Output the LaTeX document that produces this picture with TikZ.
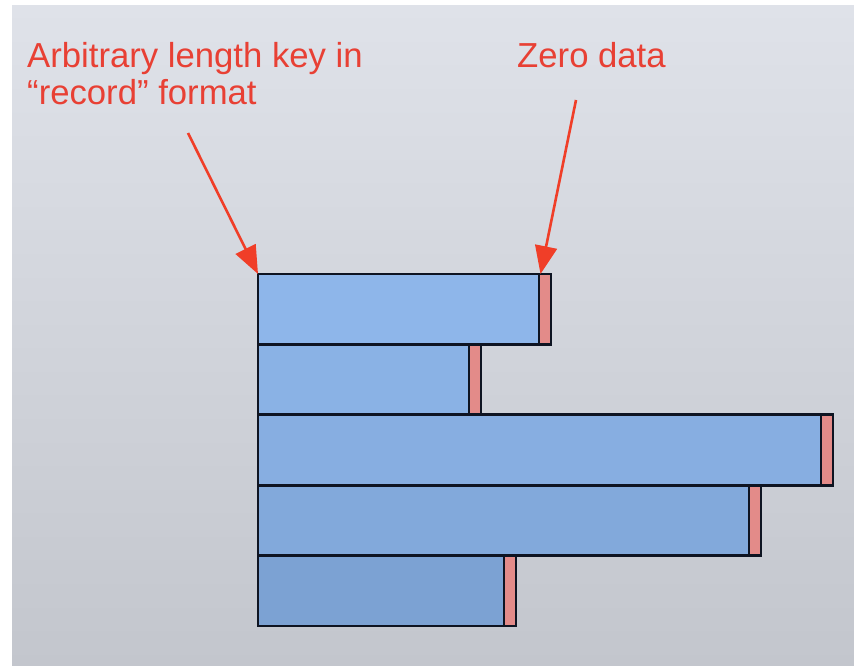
\documentclass[tikz,border=0pt]{standalone}
\usepackage{fontspec}
\setmainfont{Liberation Sans}
\usetikzlibrary{arrows.meta}

\definecolor{slidetop}{RGB}{223,226,233}
\definecolor{slidebot}{RGB}{195,198,205}
\definecolor{keyblue}{RGB}{142,182,234}
\definecolor{keydark}{RGB}{124,162,211}
\definecolor{zeropink}{RGB}{227,139,137}
\definecolor{edge}{RGB}{14,20,34}
\definecolor{callred}{RGB}{232,64,52}
\definecolor{arrowred}{RGB}{240,62,40}

\tikzset{
  keybox/.style={rectangle, draw=edge, line width=2.8pt, anchor=north west,
    inner sep=0pt, outer sep=0pt, minimum height=70.4pt},
  zerobox/.style={rectangle, draw=edge, line width=2.8pt, fill=zeropink, anchor=north west,
    inner sep=0pt, outer sep=0pt, minimum height=70.4pt},
  callout/.style={anchor=base west, text=callred, inner sep=0pt, align=left,
    font=\fontsize{34.7pt}{36.5pt}\selectfont},
  pointer/.style={draw=arrowred, line width=2.6pt,
    -{Triangle[length=28pt,width=22pt]}}
}

\begin{document}
\begin{tikzpicture}[x=1pt,y=-1pt]
  % slide area with a white strip above and to the left
  \fill[white] (0,0) rectangle (854,666);
  \shade[top color=slidetop, bottom color=slidebot] (12,6) rectangle (854,666);
  \useasboundingbox (0,0) rectangle (854,666);

  % records: key part followed by a zero-length data part
  \node[keybox, fill=keyblue, minimum width=281pt] (k1) at (258,274) {};
  \node[zerobox, minimum width=12pt] (z1) at (k1.north east) {};

  \node[keybox, fill=keyblue!80!keydark, minimum width=211pt] (k2) at (k1.south west) {};
  \node[zerobox, minimum width=12pt] (z2) at (k2.north east) {};

  \node[keybox, fill=keyblue!60!keydark, minimum width=563pt] (k3) at (k2.south west) {};
  \node[zerobox, minimum width=12pt] (z3) at (k3.north east) {};

  \node[keybox, fill=keyblue!35!keydark, minimum width=491pt] (k4) at (k3.south west) {};
  \node[zerobox, minimum width=12pt] (z4) at (k4.north east) {};

  \node[keybox, fill=keydark, minimum width=246pt] (k5) at (k4.south west) {};
  \node[zerobox, minimum width=12pt] (z5) at (k5.north east) {};

  % callouts (the base of a two-line node is its last line)
  \node[callout] (keylabel) at (27,104.5) {Arbitrary length key in\\“record” format};
  \node[callout] (zerolabel) at (517,68) {Zero data};

  \coordinate (keyfrom) at (188,133);
  \coordinate (zerofrom) at (576,100);
  \draw[pointer] (keyfrom) -- (k1.north west);
  \draw[pointer] (zerofrom) -- ([xshift=1.5pt]z1.north west);
\end{tikzpicture}
\end{document}
